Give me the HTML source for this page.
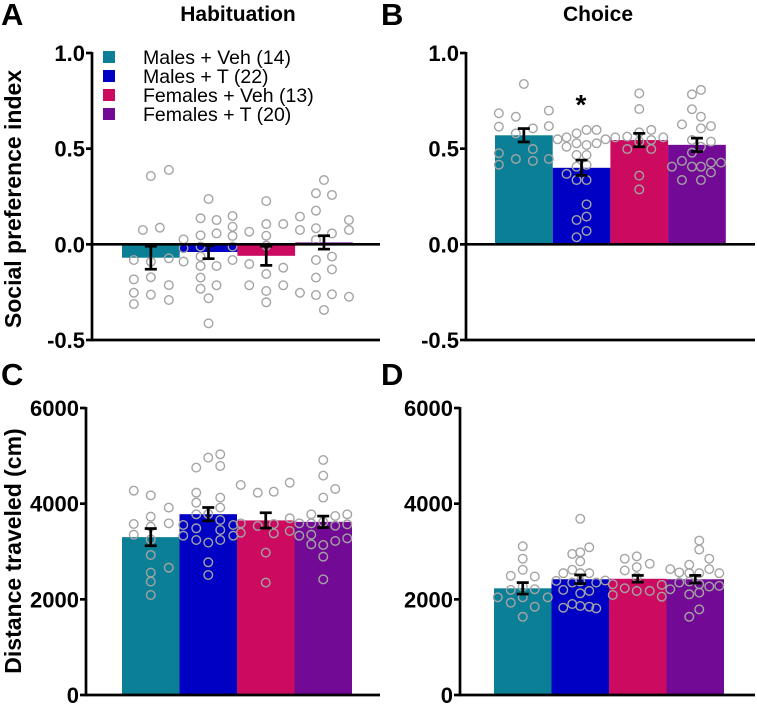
<!DOCTYPE html>
<html><head><meta charset="utf-8"><style>
body{margin:0;background:#fff;}
svg{display:block;font-family:"Liberation Sans",Arial,sans-serif;}
</style></head><body>
<svg id="fig" width="757" height="705" viewBox="0 0 757 705">
<text x="1" y="25" font-size="31" font-weight="bold">A</text>
<text x="381" y="25" font-size="31" font-weight="bold">B</text>
<text x="1" y="385" font-size="31" font-weight="bold">C</text>
<text x="381" y="385" font-size="31" font-weight="bold">D</text>
<text x="238" y="21" font-size="21" font-weight="bold" text-anchor="middle">Habituation</text>
<text x="598" y="21" font-size="21" font-weight="bold" text-anchor="middle">Choice</text>
<text transform="translate(21,199) rotate(-90)" font-size="23" font-weight="bold" text-anchor="middle">Social preference index</text>
<text transform="translate(21,551) rotate(-90)" font-size="23" font-weight="bold" text-anchor="middle">Distance traveled (cm)</text>
<text x="581" y="114" font-size="28" font-weight="bold" text-anchor="middle">*</text>
<g>
<rect x="103" y="51" width="12" height="12" fill="#0b7f95"/>
<text x="143" y="64" font-size="19.5">Males + Veh (14)</text>
<rect x="103" y="70" width="12" height="12" fill="#0000c4"/>
<text x="143" y="83" font-size="19.5">Males + T (22)</text>
<rect x="103" y="89" width="12" height="12" fill="#cc0a60"/>
<text x="143" y="102" font-size="19.5">Females + Veh (13)</text>
<rect x="103" y="108" width="12" height="12" fill="#730a96"/>
<text x="143" y="121" font-size="19.5">Females + T (20)</text>
</g>
</svg>
<script>
const groups = ["Males + Veh","Males + T","Females + Veh","Females + T"];
const colors = ["#0b7f95","#0000c4","#cc0a60","#730a96"];
const ticksPref = [1.0,0.5,0.0,-0.5];
const tickLabelsPref = ["1.0","0.5","0.0","-0.5"];
const ticksDist = [6000,4000,2000,0];
const tickLabelsDist = ["6000","4000","2000","0"];

const meanA = [-0.07,-0.04,-0.06,0.01];
const semA = [0.06,0.035,0.05,0.035];
const meanB = [0.57,0.40,0.545,0.52];
const semB = [0.035,0.04,0.035,0.035];
const meanC = [3300,3780,3650,3620];
const semC = [180,140,160,120];
const meanD = [2230,2420,2430,2420];
const semD = [120,90,70,80];

const ptsA = [
[0.075,0.087,0.357,0.389,-0.082,-0.091,-0.073,-0.183,-0.172,-0.213,-0.253,-0.263,-0.291,-0.312],
[0.026,-0.02,-0.09,0.136,0.047,-0.012,-0.064,-0.113,-0.174,-0.232,0.237,-0.282,-0.413,0.127,0.057,-0.113,-0.214,0.148,0.092,0.044,-0.012,-0.082],
[0.066,-0.103,-0.214,0.226,0.106,0.045,-0.007,-0.155,-0.244,-0.303,0.106,-0.122,-0.214],
[0.145,0.075,-0.253,0.267,0.176,0.084,0.023,-0.082,-0.174,-0.265,0.336,-0.343,0.258,0.057,-0.064,-0.131,-0.261,0.127,0.075,-0.274]];
const jitA = [
[-8,9,0,18,-17,0,18,-17,0,18,-17,0,18,-17],
[-25,-25,-25,-8,-8,-8,-8,-8,-8,-8,0,0,0,8,8,8,8,24,24,24,24,24],
[-17,-17,-17,0,0,0,0,0,0,0,17,17,17],
[-24,-24,-24,-8,-8,-8,-8,-8,-8,-8,0,0,8,8,8,8,8,25,25,25]];

const ptsB = [
[0.838,0.685,0.615,0.667,0.58,0.606,0.699,0.618,0.476,0.416,0.446,0.498,0.436,0.446],
[0.549,0.559,0.510,0.368,0.580,0.528,0.467,0.406,0.336,0.127,0.037,0.519,0.467,0.415,0.336,0.209,0.145,0.070,0.598,0.528,0.549,0.598],
[0.559,0.563,0.498,0.789,0.707,0.585,0.359,0.287,0.598,0.545,0.498,0.559,0.537],
[0.406,0.627,0.436,0.336,0.784,0.706,0.545,0.479,0.406,0.807,0.667,0.606,0.510,0.406,0.336,0.618,0.537,0.427,0.376,0.427]];
const jitB = [
[0,-25,-25,-8,-8,9,25,25,-25,-25,-8,9,9,25],
[-24,-15,-15,-15,-5,-5,-5,-5,-5,-5,-5,5,5,5,5,5,5,5,15,15,24,5],
[-24,-12,-12,0,0,0,0,0,12,12,12,24,0],
[-25,-15,-15,-15,-5,-5,-5,-5,-5,4,4,4,4,4,4,14,14,14,14,24]];

const ptsC = [
[4272,3575,3352,4174,3728,3519,3254,2927,2558,2370,2091,3917,3589,2662],
[3554,3331,4753,4230,4021,3777,3485,3240,4962,3784,3185,2774,2509,5032,4788,4126,3917,3659,3450,3240,3554,3331],
[4391,3589,3394,4230,3533,2976,2349,4251,3575,3380,4439,3694,3429],
[3589,3331,3777,3589,3352,3150,4913,4586,4126,3617,3136,2892,2418,4307,3742,3540,3220,3777,3568,3275]];
const jitC = [
[-17,-17,-17,0,0,0,0,0,0,0,0,18,18,18],
[-25,-25,-12,-12,-12,-12,-12,-12,0,0,0,0,0,12,12,12,12,12,12,12,25,25],
[-25,-25,-25,-8,-8,0,0,8,8,8,24,24,24],
[-24,-24,-12,-12,-12,-12,0,0,0,0,0,0,0,12,12,12,12,24,24,24]];

const ptsD = [
[2042,2491,2197,1930,3109,2849,2618,2042,1635,2477,2211,1846,2042,2267],
[2386,2547,2197,1825,2948,1902,2983,2793,2547,2372,2126,1860,3088,2547,2176,1846,3684,2351,1811,2393,2351,2618],
[2316,2091,2849,2604,2232,2898,2674,2176,2744,2176,2302,2056,2463],
[2632,2211,2562,2723,2372,2105,1635,3228,3039,2547,2316,2141,1790,2849,2267,2547,2281,2351,2632,2547]];
const jitD = [
[-25,-12,-12,-12,0,0,0,0,0,12,12,12,25,0],
[-24,-17,-17,-17,-8,-8,0,0,0,0,0,0,9,9,9,9,0,16,16,25,-8,-8],
[-25,-25,-13,-13,-13,-1,-1,-1,12,12,24,24,-1],
[-25,-25,-16,-6,-6,-6,-6,4,4,4,4,4,4,14,14,24,24,-16,14,-6]];

const NS="http://www.w3.org/2000/svg";
const svg=document.getElementById('fig');
function mk(tag,attrs,parent){const e=document.createElementNS(NS,tag);for(const k in attrs)e.setAttribute(k,attrs[k]);(parent||svg).appendChild(e);return e;}

function panel(cfg){
  const g=mk('g',{});
  
  
  const y=v=>cfg.y0+(v-cfg.vmin)/(cfg.vmax-cfg.vmin)*(cfg.y1-cfg.y0);
  const bw=cfg.bw;
  const cx=i=>cfg.barX0+bw*i+bw/2;
  const base=y(cfg.base);
  cfg.means.forEach((m,i)=>{
    const top=Math.min(y(m),base),h=Math.abs(y(m)-base);
    const r=mk('rect',{x:cfg.barX0+bw*i,y:top,width:bw,height:h,fill:colors[i]},g);
    
    
  });
  cfg.pts.forEach((arr,i)=>arr.forEach((v,j)=>{
    const c=mk('circle',{cx:cx(i)+cfg.jit[i][j],cy:y(v),r:4.3,fill:'none',stroke:'#a4a4a4','stroke-width':1.4},g);
    
    
  }));
  cfg.means.forEach((m,i)=>{
    const e=mk('g',{stroke:'#000','stroke-width':2.7,fill:'none'},g);
    
    
    const a=y(m+cfg.sem[i]),b=y(m-cfg.sem[i]),x=cx(i);
    mk('line',{x1:x,x2:x,y1:a,y2:b},e);
    mk('line',{x1:x-6,x2:x+6,y1:a,y2:a},e);
    mk('line',{x1:x-6,x2:x+6,y1:b,y2:b},e);
  });
  const ax=mk('g',{stroke:'#000','stroke-width':2.7},g);
  
  
  mk('line',{x1:cfg.axX,x2:cfg.axX,y1:y(cfg.vmax)-1,y2:y(cfg.vmin)+1.3},ax);
  mk('line',{x1:cfg.axX,x2:cfg.axEnd,y1:y(cfg.vmin),y2:y(cfg.vmin)},ax);
  if(cfg.base!==cfg.vmin) mk('line',{x1:cfg.axX,x2:cfg.axEnd,y1:base,y2:base},ax);
  cfg.ticks.forEach((t,k)=>{
    mk('line',{x1:cfg.axX-6,x2:cfg.axX,y1:y(t),y2:y(t)},ax);
    const tx=mk('text',{x:cfg.axX-7,y:y(t)+8,'font-size':22,'font-weight':'bold','text-anchor':'end'},g);
    tx.textContent=cfg.tickLabels[k];
    
    
  });
}
const pref={vmin:-0.5,vmax:1.0,y0:340,y1:53,base:0,ticks:ticksPref,tickLabels:tickLabelsPref,bw:57.7};
const dist={vmin:0,vmax:6000,y0:695,y1:408,base:0,ticks:ticksDist,tickLabels:tickLabelsDist,bw:57.5};
panel(Object.assign({},pref,{name:'panel-a-habituation',key:'a',means:meanA,sem:semA,pts:ptsA,jit:jitA,axX:92,axEnd:380,barX0:122}));
panel(Object.assign({},pref,{name:'panel-b-choice',key:'b',means:meanB,sem:semB,pts:ptsB,jit:jitB,axX:466,axEnd:755,barX0:495}));
panel(Object.assign({},dist,{name:'panel-c-distance-habituation',key:'c',means:meanC,sem:semC,pts:ptsC,jit:jitC,axX:86,axEnd:380,barX0:122}));
panel(Object.assign({},dist,{name:'panel-d-distance-choice',key:'d',means:meanD,sem:semD,pts:ptsD,jit:jitD,axX:460,axEnd:755,barX0:494}));
</script>
</body></html>
